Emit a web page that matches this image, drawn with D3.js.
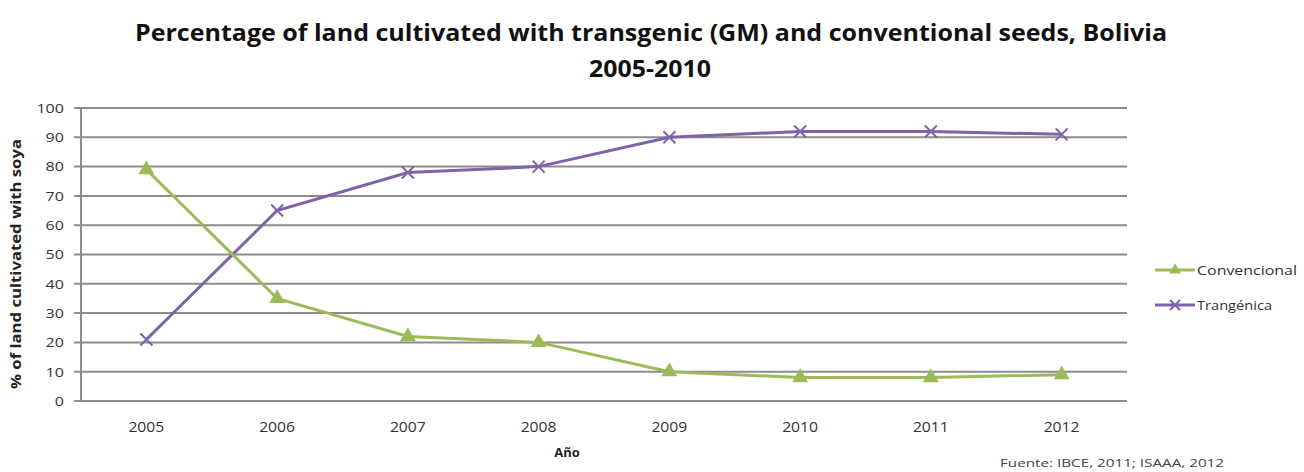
<!DOCTYPE html>
<html><head><meta charset="utf-8">
<script src="https://cdn.jsdelivr.net/npm/d3@7"></script>
<style>body{margin:0;background:#fff}svg{display:block}</style>
</head><body>
<svg id="c" width="1304" height="472"></svg>
<script>
const years = ["2005","2006","2007","2008","2009","2010","2011","2012"];
const convencional = [79, 35, 22, 20, 10, 8, 8, 9];
const transgenica = [21, 65, 78, 80, 90, 92, 92, 91];
const yTicks = [0,10,20,30,40,50,60,70,80,90,100];
const seriesNames = ["Convencional","Trangénica"];

(function(){
const svg = d3.select("#c");
const font = "'Open Sans', 'Liberation Sans', sans-serif";
const pL = 81, pR = 1127, pT = 108, pB = 401;
const x = d3.scalePoint().domain(years).range([pL, pR]).padding(0.5);
const y = d3.scaleLinear().domain([0,100]).range([pB, pT]);

svg.append("g").selectAll("line").data(yTicks).join("line")
  .attr("x1", pL-7).attr("x2", pR).attr("y1", d=>y(d)).attr("y2", d=>y(d))
  .attr("stroke", "#8c8c8c").attr("stroke-width", 2);
svg.append("line").attr("x1", pL).attr("x2", pL).attr("y1", pT).attr("y2", pB)
  .attr("stroke", "#8c8c8c").attr("stroke-width", 2);
svg.append("g").selectAll("text").data(yTicks).join("text")
  .attr("x", 64).attr("y", d=>y(d)).attr("dy","0.36em").attr("text-anchor","end")
  .attr("font-family", font).attr("font-size", 13.5).attr("fill","#333")
  .attr("textLength", d=>String(d).length*9.2).attr("lengthAdjust","spacingAndGlyphs").text(d=>d);
svg.append("g").selectAll("text").data(years).join("text")
  .attr("x", d=>x(d)).attr("y", 432).attr("text-anchor","middle")
  .attr("font-family", font).attr("font-size", 14).attr("fill","#333")
  .attr("textLength", 36).attr("lengthAdjust","spacingAndGlyphs").text(d=>d);

function label(s, tx, ty, size, len, bold, fill, rot){
  const t = svg.append("text")
    .attr("transform", `translate(${tx},${ty})` + (rot ? " rotate(-90)" : ""))
    .attr("text-anchor","middle").attr("font-family", font)
    .attr("font-weight", bold ? "bold" : "normal").attr("font-size", size)
    .attr("fill", fill).text(s);
  if (len) t.attr("textLength", len).attr("lengthAdjust","spacingAndGlyphs");
  return t;
}
label("Percentage of land cultivated with transgenic (GM) and conventional seeds, Bolivia", 651, 41, 24, 1032, true, "#111");
label("2005-2010", 650, 77, 23, 122, true, "#111");
label("% of land cultivated with soya", 21, 264, 13.5, 250, true, "#222", true);
label("Año", 567, 457, 13, 0, true, "#222");
label("Fuente: IBCE, 2011; ISAAA, 2012", 1112, 467, 11, 224, false, "#444");

const green = "#9bbb59", purple = "#7f62a8";
const line = d3.line().x((d,i)=>x(years[i])).y(d=>y(d));
const tri = d3.symbol().type(d3.symbolTriangle).size(110);

function cross(g, cx, cy, s, col){
  g.append("path").attr("d", `M${cx-s},${cy-s}L${cx+s},${cy+s}M${cx-s},${cy+s}L${cx+s},${cy-s}`)
   .attr("stroke", col).attr("stroke-width", 2).attr("fill","none");
}

svg.append("path").datum(transgenica).attr("d", line).attr("fill","none")
  .attr("stroke", purple).attr("stroke-width", 3);
svg.append("path").datum(convencional).attr("d", line).attr("fill","none")
  .attr("stroke", green).attr("stroke-width", 3);
const gm = svg.append("g");
transgenica.forEach((v,i)=>cross(gm, x(years[i]), y(v), 6, purple));
svg.append("g").selectAll("path").data(convencional).join("path")
  .attr("d", tri).attr("transform",(d,i)=>`translate(${x(years[i])},${y(d)})`).attr("fill", green);

const lg = svg.append("g");
const legY = [270, 305];
const legLen = [100, 75];
lg.append("line").attr("x1",1155).attr("x2",1195).attr("y1",legY[0]).attr("y2",legY[0]).attr("stroke",green).attr("stroke-width",3);
lg.append("path").attr("d", d3.symbol().type(d3.symbolTriangle).size(60)).attr("transform",`translate(1175,${legY[0]})`).attr("fill",green);
lg.append("line").attr("x1",1155).attr("x2",1195).attr("y1",legY[1]).attr("y2",legY[1]).attr("stroke",purple).attr("stroke-width",3);
cross(lg, 1175, legY[1], 5, purple);
lg.selectAll("text").data(seriesNames).join("text")
  .attr("x",1197).attr("y",(d,i)=>legY[i]).attr("dy","0.36em")
  .attr("font-family", font).attr("font-size", 13).attr("fill","#333")
  .attr("textLength",(d,i)=>legLen[i]).attr("lengthAdjust","spacingAndGlyphs").text(d=>d);
})();
</script>
</body></html>
